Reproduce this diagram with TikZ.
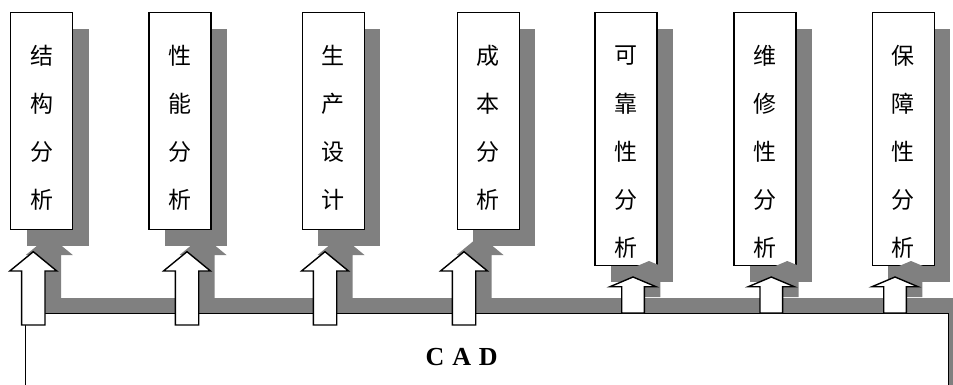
\documentclass[tikz,border=0pt]{standalone}
\usepackage{fontspec}
\setmainfont{Liberation Serif}
\newfontfamily\cjk{Noto Sans CJK SC}
\usetikzlibrary{shadows}
\definecolor{shgray}{HTML}{808080}
\begin{document}
\begin{tikzpicture}[x=1pt,y=-1pt,
  panel/.style={draw, line width=1.4pt, fill=white, minimum width=62pt,
    inner sep=0pt, anchor=north west,
    general shadow={fill=shgray, shadow xshift=16pt, shadow yshift=-16pt}},
  hanzi/.style={font=\cjk\fontsize{23}{23}\selectfont, inner sep=0pt},
  basebox/.style={draw, line width=1.4pt, fill=white, inner sep=0pt,
    anchor=north west, minimum width=923pt, minimum height=140pt,
    general shadow={fill=shgray, shadow xshift=16pt, shadow yshift=16pt}},
  blockarrow/.style={draw, line width=1.4pt, fill=white, line join=miter},
  arrowshadow/.style={fill=shgray}]
\useasboundingbox (0,0) rectangle (953,385);
\clip (0,0) rectangle (953,385);

% analysis panels
\foreach \n/\x/\h in {1/10/217, 2/148.3/217, 3/301.7/217, 4/456.7/217,
                      5/594.3/253, 6/733.3/253, 7/871.7/253}
  \node[panel, minimum height=\h pt] (b\n) at (\x,12) {};

% vertical labels
\foreach \n/\chars in {1/{结,构,分,析}, 2/{性,能,分,析}, 3/{生,产,设,计},
                       4/{成,本,分,析}, 5/{可,靠,性,分,析},
                       6/{维,修,性,分,析}, 7/{保,障,性,分,析}}
  \foreach \c [count=\i] in \chars
    \node[hanzi] (t\n-\i) at ([yshift={-(43.7+48.1*(\i-1))*1pt}]b\n.north) {\c};

% CAD base
\node[basebox] (cad) at (25,313) {};
\node[font=\bfseries\fontsize{26}{26}\selectfont, inner sep=0pt] (cadlbl)
  at (461.7,356.7) {C\hspace{0.3em}A\hspace{0.3em}D};

% arrow tips
\foreach \n/\x in {1/33.3, 2/187, 3/325, 4/464}
  \coordinate (a\n) at (\x,251.7);
\foreach \n/\x in {5/633, 6/771.3, 7/895}
  \coordinate (a\n) at (\x,277);

% block arrows: tip, head half width, head length, shaft half width, shaft length
\foreach \n/\hw/\hl/\sw/\sl in {1/23.5/19.3/11.7/54, 2/23.5/19.3/11.7/54,
                                3/23.5/19.3/11.7/54, 4/23.5/19.3/11.7/54,
                                5/23/9.7/11.3/26.3, 6/23/9.7/11.3/26.3,
                                7/23/9.7/11.3/26.3}
{
  \fill[arrowshadow] ([shift={(16,-16)}]a\n) -- ++(\hw,\hl) -- ++({-(\hw-\sw)},0)
    -- ++(0,\sl) -- ++({-2*\sw},0) -- ++(0,-\sl) -- ++({-(\hw-\sw)},0) -- cycle;
}
\foreach \n/\hw/\hl/\sw/\sl in {1/23.5/19.3/11.7/54, 2/23.5/19.3/11.7/54,
                                3/23.5/19.3/11.7/54, 4/23.5/19.3/11.7/54,
                                5/23/9.7/11.3/26.3, 6/23/9.7/11.3/26.3,
                                7/23/9.7/11.3/26.3}
{
  \draw[blockarrow] (a\n) -- ++(\hw,\hl) -- ++({-(\hw-\sw)},0)
    -- ++(0,\sl) -- ++({-2*\sw},0) -- ++(0,-\sl) -- ++({-(\hw-\sw)},0) -- cycle;
}
\end{tikzpicture}
\end{document}
